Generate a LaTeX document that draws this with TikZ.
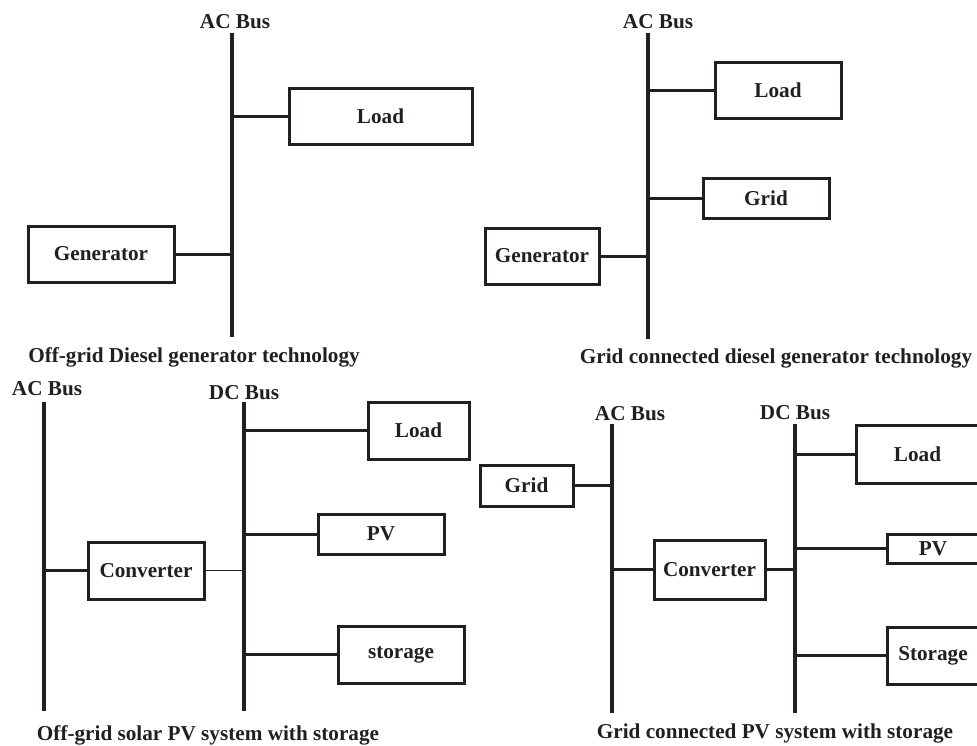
\documentclass[tikz,border=0pt]{standalone}
\usepackage{fontspec}
\setmainfont{Liberation Serif}
\begin{document}
\begin{tikzpicture}[x=1pt,y=-1pt,
  box/.style={draw=ink, line width=3pt, inner sep=0pt, font=\fontsize{21.2}{25}\selectfont\bfseries, text=ink},
  lbl/.style={inner sep=0pt, font=\fontsize{21.2}{25}\selectfont\bfseries, text=ink},
  bus/.style={draw=ink, line width=3.2pt},
  wire/.style={draw=ink, line width=3pt},
  thinwire/.style={draw=ink, line width=1pt}]
\definecolor{ink}{HTML}{231F20}
\useasboundingbox (0,0) rectangle (977,745);
\clip (0,0) rectangle (977,745);

% ---------- Panel 1: Off-grid diesel ----------
\coordinate (b1t) at (232,33);
\coordinate (b1b) at (232,337);
\draw[bus] (b1t) -- (b1b);
\node[lbl] (b1l) at (235,22) {AC Bus};
\node[box, minimum width=183pt, minimum height=56pt] (load1) at (380.5,116) {Load};
\node[box, minimum width=146pt, minimum height=56pt] (gen1) at (101,254) {Generator};
\draw[wire] (load1.west) -- (load1.west -| b1t);
\draw[wire] (gen1.east) -- (gen1.east -| b1t);
\node[lbl] (cap1) at (194,357) {Off-grid Diesel generator technology};

% ---------- Panel 2: Grid connected diesel ----------
\coordinate (b2t) at (648,33);
\coordinate (b2b) at (648,339);
\draw[bus] (b2t) -- (b2b);
\node[lbl] (b2l) at (658,22) {AC Bus};
\node[box, minimum width=126pt, minimum height=56pt] (load2) at (778,90) {Load};
\node[box, minimum width=126pt, minimum height=40pt] (grid2) at (766,198) {Grid};
\node[box, minimum width=114pt, minimum height=56pt] (gen2) at (542,256) {Generator};
\draw[wire] (load2.west) -- (load2.west -| b2t);
\draw[wire] (grid2.west) -- (grid2.west -| b2t);
\draw[wire] (gen2.east) -- (gen2.east -| b2t);
\node[lbl] (cap2) at (776,358) {Grid connected diesel generator technology};

% ---------- Panel 3: Off-grid solar PV ----------
\coordinate (ac3t) at (44,402);
\coordinate (ac3b) at (44,711);
\coordinate (dc3t) at (244,402);
\coordinate (dc3b) at (244,711);
\draw[bus] (ac3t) -- (ac3b);
\draw[bus] (dc3t) -- (dc3b);
\node[lbl] (ac3l) at (47,389) {AC Bus};
\node[lbl] (dc3l) at (244,393) {DC Bus};
\node[box, minimum width=101pt, minimum height=57pt] (load3) at (418.5,430.5) {Load};
\node[box, minimum width=126pt, minimum height=40pt] (pv3) at (381,534) {PV};
\node[box, minimum width=116pt, minimum height=57pt] (conv3) at (146,570.5) {Converter};
\node[box, minimum width=126pt, minimum height=57pt] (stor3) at (401,654.5) {storage};
\draw[wire] (load3.west) -- (load3.west -| dc3t);
\draw[wire] (pv3.west) -- (pv3.west -| dc3t);
\draw[wire] (stor3.west) -- (stor3.west -| dc3t);
\draw[wire] (conv3.west) -- (conv3.west -| ac3t);
\draw[thinwire] (conv3.east) -- (conv3.east -| dc3t);
\node[lbl] (cap3) at (208,735) {Off-grid solar PV system with storage};

% ---------- Panel 4: Grid connected PV ----------
\coordinate (ac4t) at (612,424);
\coordinate (ac4b) at (612,713);
\coordinate (dc4t) at (795,424);
\coordinate (dc4b) at (795,713);
\draw[bus] (ac4t) -- (ac4b);
\draw[bus] (dc4t) -- (dc4b);
\node[lbl] (ac4l) at (630,414) {AC Bus};
\node[lbl] (dc4l) at (795,413) {DC Bus};
\node[box, minimum width=93pt, minimum height=41pt] (grid4) at (526.5,485.5) {Grid};
\node[box, minimum width=111pt, minimum height=59pt] (conv4) at (709.5,569.5) {Converter};
\node[box, minimum width=123pt, minimum height=58pt] (load4) at (917.5,454) {Load};
\node[box, minimum width=92pt, minimum height=29pt] (pv4) at (933,548.5) {PV};
\node[box, minimum width=92pt, minimum height=57pt] (stor4) at (933,655.5) {Storage};
\draw[wire] (grid4.east) -- (grid4.east -| ac4t);
\draw[wire] (conv4.west) -- (conv4.west -| ac4t);
\draw[wire] (conv4.east) -- (conv4.east -| dc4t);
\draw[wire] (load4.west) -- (load4.west -| dc4t);
\draw[wire] (pv4.west) -- (pv4.west -| dc4t);
\draw[wire] (stor4.west) -- (stor4.west -| dc4t);
\node[lbl] (cap4) at (775,733) {Grid connected PV system with storage};
\end{tikzpicture}
\end{document}
